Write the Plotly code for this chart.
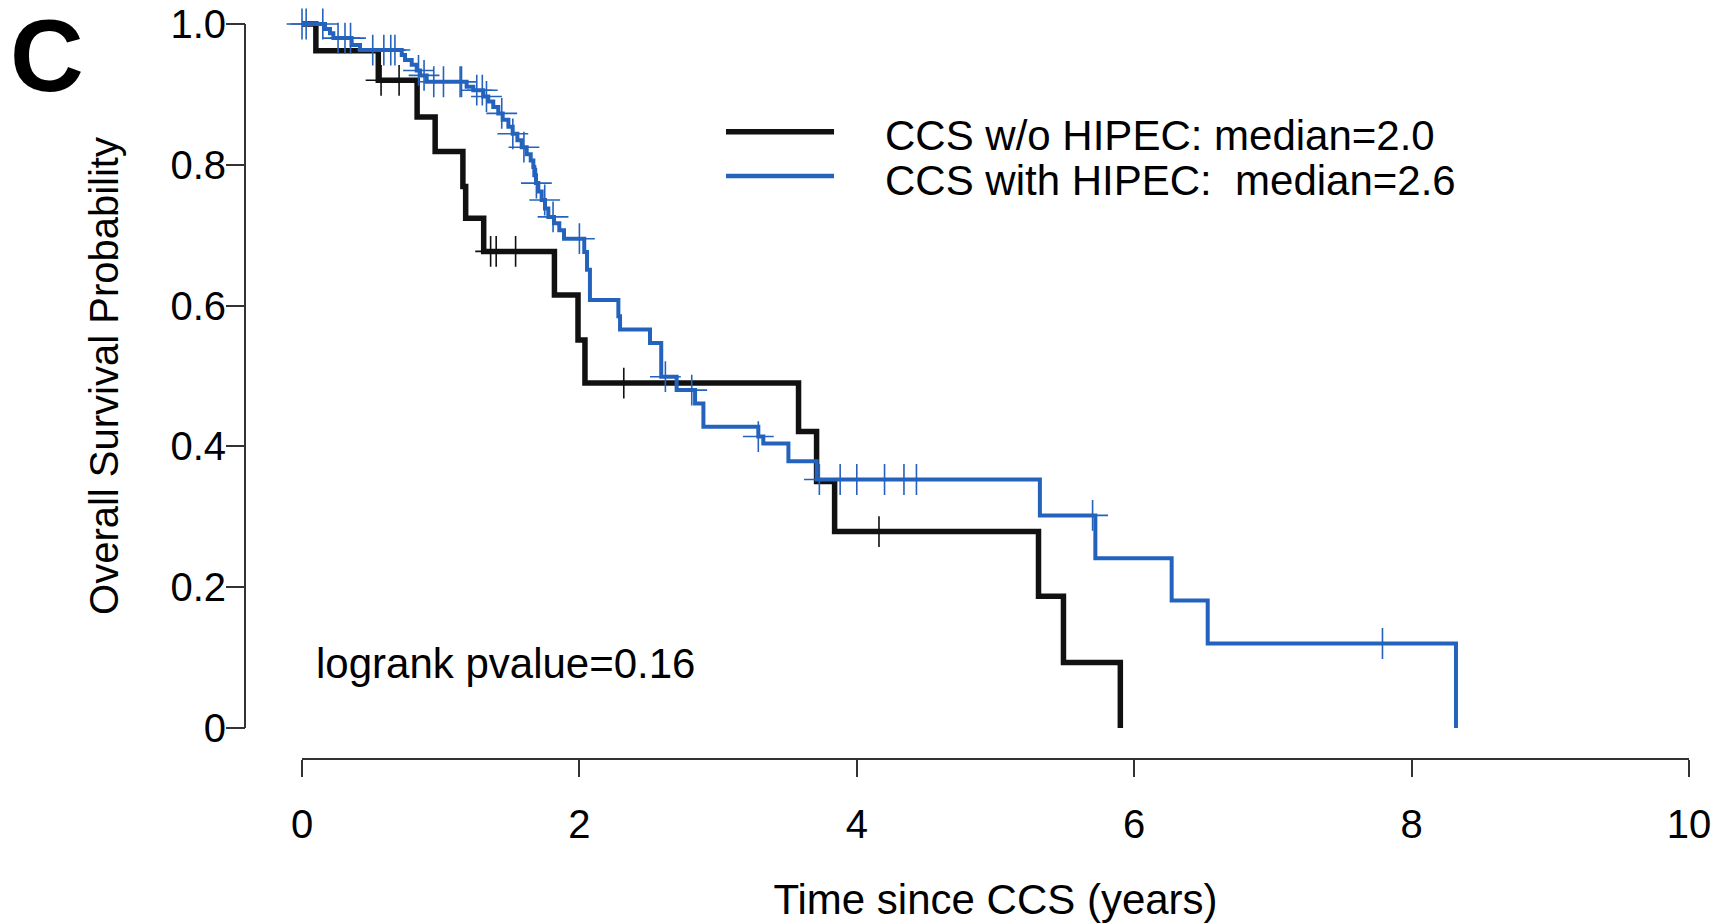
import numpy as np
import plotly.graph_objects as go

# Kaplan-Meier step data: event times (years) and survival after each drop
no_hipec_time = [0.10, 0.55, 0.83, 0.96, 1.16, 1.18, 1.31, 1.82, 1.99, 2.04,
                 3.58, 3.71, 3.84, 5.31, 5.49, 5.90]
no_hipec_surv = [0.962, 0.920, 0.868, 0.819, 0.769, 0.724, 0.677, 0.615, 0.551, 0.490,
                 0.421, 0.350, 0.279, 0.187, 0.093, 0.0]
no_hipec_censor = [0.57, 0.70, 1.36, 1.40, 1.54, 2.32, 4.16]

hipec_time = [0.166, 0.202, 0.226, 0.358, 0.418, 0.719, 0.743, 0.791, 0.827, 0.851, 0.899,
              1.187, 1.235, 1.307, 1.343, 1.379, 1.415, 1.447, 1.488, 1.519, 1.553, 1.584,
              1.620, 1.649, 1.668, 1.675, 1.687, 1.704, 1.728, 1.752, 1.776, 1.817, 1.855,
              1.889, 2.035, 2.055, 2.076, 2.281, 2.293, 2.509, 2.590, 2.701, 2.834, 2.894,
              3.290, 3.326, 3.507, 3.711, 5.320, 5.720, 6.270, 6.530, 8.320]
hipec_surv = [0.993, 0.987, 0.980, 0.970, 0.963, 0.956, 0.949, 0.942, 0.934, 0.927, 0.918,
              0.911, 0.906, 0.897, 0.890, 0.882, 0.873, 0.864, 0.854, 0.844, 0.835, 0.825,
              0.815, 0.806, 0.797, 0.785, 0.774, 0.762, 0.750, 0.738, 0.726, 0.717, 0.707,
              0.695, 0.676, 0.651, 0.608, 0.585, 0.566, 0.547, 0.499, 0.480, 0.461, 0.428,
              0.414, 0.404, 0.379, 0.353, 0.302, 0.241, 0.181, 0.120, 0.0]
hipec_censor = [0.0, 0.03, 0.15, 0.26, 0.31, 0.35, 0.51, 0.59, 0.64, 0.67, 0.84, 0.88, 0.95,
                1.02, 1.14, 1.15, 1.26, 1.30, 1.33, 1.44, 1.52, 1.60, 1.69, 1.75, 1.81, 2.00,
                2.62, 2.81, 3.29, 3.73, 3.88, 4.00, 4.20, 4.34, 4.43, 5.70, 7.79]

series_names = ["CCS w/o HIPEC: median=2.0", "CCS with HIPEC:\u00a0 median=2.6"]
x_ticks = [0, 2, 4, 6, 8, 10]
y_ticks = [0, 0.2, 0.4, 0.6, 0.8, 1.0]
y_tick_text = ["0", "0.2", "0.4", "0.6", "0.8", "1.0"]

BLACK = "#111111"
BLUE = "#2463bd"
FONT = "Liberation Sans, Arial, Helvetica, sans-serif"
W, H = 1720, 923


def surv_at(times, surv, t):
    idx = np.searchsorted(np.asarray(times), np.asarray(t), side="right") - 1
    s = np.concatenate([[1.0], np.asarray(surv)])
    return s[idx + 1]


fig = go.Figure()

for times, surv, cens, color, width in [
    (no_hipec_time, no_hipec_surv, no_hipec_censor, BLACK, 5.5),
    (hipec_time, hipec_surv, hipec_censor, BLUE, 4),
]:
    fig.add_trace(go.Scatter(
        x=[0.0] + list(times), y=[1.0] + list(surv),
        mode="lines", line=dict(color=color, width=width, shape="hv"),
        showlegend=False, hoverinfo="skip"))
    fig.add_trace(go.Scatter(
        x=cens, y=surv_at(times, surv, cens),
        mode="markers", cliponaxis=False,
        marker=dict(symbol="cross-thin", size=22, line=dict(color=color, width=1.6)),
        showlegend=False, hoverinfo="skip"))

# pixel layout helpers
def px(xp):
    return xp / W


def py(yp):
    return (H - yp) / H


x0_px, x10_px = 302, 1689
y1_px, y0_px = 24, 728
unit = y0_px - y1_px
ypad = 0.02
y_lo_px = y0_px + ypad * unit
y_hi_px = y1_px - ypad * unit

fig.update_layout(
    template="none",
    width=W, height=H,
    margin=dict(l=0, r=0, t=0, b=0, autoexpand=False),
    paper_bgcolor="white", plot_bgcolor="white",
    font=dict(family=FONT, color="black"),
    xaxis=dict(
        domain=[px(x0_px), px(x10_px)], range=[0, 10], automargin=False,
        anchor="free", position=py(759),
        showline=True, linecolor="#333333", linewidth=2,
        ticks="outside", ticklen=17, tickwidth=1.6, tickcolor="#333333",
        tickvals=x_ticks, ticktext=[str(v) for v in x_ticks],
        tickfont=dict(size=40), ticklabelstandoff=13,
        showgrid=False, zeroline=False,
        title=dict(text="Time since CCS (years)", font=dict(size=42), standoff=44),
    ),
    yaxis=dict(
        domain=[py(y_lo_px), py(y_hi_px)], range=[-ypad, 1 + ypad], automargin=False,
        anchor="free", position=px(245),
        showline=False,
        ticks="outside", ticklen=19, tickwidth=1.6, tickcolor="#333333",
        tickvals=y_ticks, ticktext=y_tick_text,
        tickfont=dict(size=40), ticklabelstandoff=-8,
        showgrid=False, zeroline=False,
        title=dict(text="Overall Survival Probability", font=dict(size=40), standoff=38),
    ),
)

# y axis line spanning 0..1 only
fig.add_shape(type="line", xref="paper", yref="y", x0=px(245), x1=px(245), y0=0, y1=1,
              line=dict(color="#333333", width=2))

# legend samples and labels
legend_rows = [(0.847, 0.841, BLACK, 5.5), (0.784, 0.777, BLUE, 4.5)]
for (ly, ty, color, width), name in zip(legend_rows, series_names):
    fig.add_shape(type="line", xref="x", yref="y", x0=3.057, x1=3.836, y0=ly, y1=ly,
                  line=dict(color=color, width=width))
    fig.add_annotation(x=4.19, y=ty, xref="x", yref="y", text=name, showarrow=False,
                       xanchor="left", yanchor="middle", font=dict(size=42, color="black"))

fig.add_annotation(x=0.09, y=0.091, xref="x", yref="y", text="logrank pvalue=0.16",
                   showarrow=False, xanchor="left", yanchor="middle",
                   font=dict(size=42, color="black"))

fig.add_annotation(x=px(8), y=py(56), xref="paper", yref="paper", text="<b>C</b>",
                   showarrow=False, xanchor="left", yanchor="middle",
                   font=dict(size=102, color="black"))

fig.write_html("out.html")
